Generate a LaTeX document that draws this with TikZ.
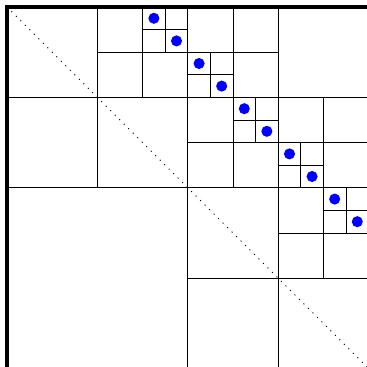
\documentclass[tikz,border=0pt]{standalone}
\usepackage{tikz}
\tikzset{%
  blk/.style={line width=0.7pt, black},
  edge/.style={line width=2.4pt, black},
  diag/.style={line width=0.8pt, black, dash pattern=on 0.8pt off 4pt},
  rankdot/.style={fill=blue},
}

\begin{document}
\begin{tikzpicture}[x=0.6cm, y=-0.6cm]

% frame of the visible part
\useasboundingbox (-0.31,-0.31) rectangle (15.93,15.93);
\clip (-0.31,-0.31) rectangle (15.93,15.93);

% dotted main diagonal
\draw[diag] (0,0) -- (16,16);

% horizontal block borders: row / from / to
\foreach \y/\a/\b in {1/6/8, 2/4/12, 3/8/10, 4/0/16.5, 5/10/12,
                      6/8/16.5, 7/12/14, 8/0/16.5, 9/14/16.5, 10/12/16.5, 12/8/16.5}
  \draw[blk] (\a,\y) -- (\b,\y);

% vertical block borders: column / from / to
\foreach \x/\a/\b in {4/0/8, 6/0/4, 7/0/2, 8/0/16.5, 9/2/4, 10/0/8,
                      11/4/6, 12/0/16.5, 13/6/8, 14/4/12, 15/8/10}
  \draw[blk] (\x,\a) -- (\x,\b);

% thick outer edge (top and left)
\draw[edge] (0,16.5) -- (0,0) -- (16.5,0);

% full rank leaves next to the diagonal
\foreach \i in {0,...,9}
  \fill[rankdot] (6.5+\i,0.5+\i) circle (0.245);

\end{tikzpicture}
\end{document}
